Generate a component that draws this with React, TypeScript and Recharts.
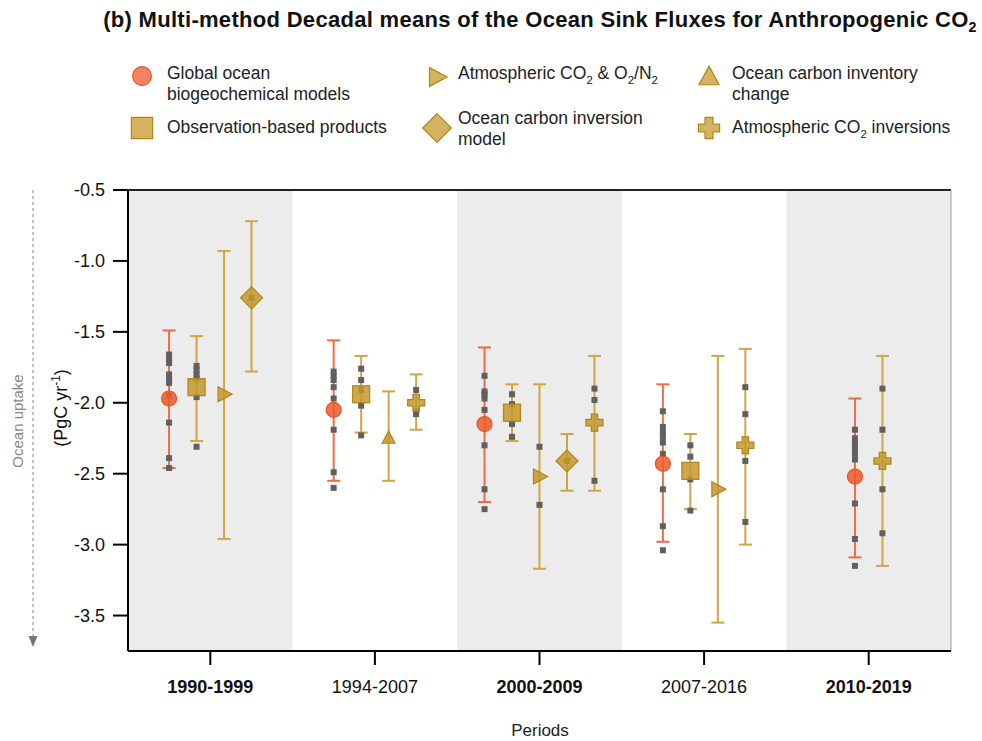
import React from 'react';
import {
  ComposedChart,
  Scatter,
  XAxis,
  YAxis,
  ErrorBar,
  ReferenceArea,
  ReferenceLine,
} from 'recharts';

// ---------------- DATA ----------------
const periods = ['1990-1999', '1994-2007', '2000-2009', '2007-2016', '2010-2019'];
const boldPeriod = [true, false, true, false, true];
const yTicks = [-3.5, -3.0, -2.5, -2.0, -1.5, -1.0, -0.5];

// Global ocean biogeochemical models
const gobmPeriods = [0, 1, 2, 3, 4];
const gobmMean = [-1.97, -2.05, -2.15, -2.43, -2.52];
const gobmLow = [-2.46, -2.55, -2.70, -2.98, -3.09];
const gobmHigh = [-1.49, -1.56, -1.61, -1.87, -1.97];
const gobmModels = [
  [-1.66, -1.69, -1.72, -1.80, -1.83, -1.86, -1.95, -2.14, -2.39, -2.46],
  [-1.78, -1.81, -1.84, -1.89, -1.97, -2.19, -2.49, -2.60],
  [-1.81, -1.92, -1.94, -1.97, -2.05, -2.30, -2.61, -2.75],
  [-2.06, -2.17, -2.21, -2.24, -2.28, -2.36, -2.61, -2.87, -3.04],
  [-2.19, -2.25, -2.29, -2.32, -2.36, -2.40, -2.71, -2.96, -3.15],
];

// Observation-based products
const obsPeriods = [0, 1, 2, 3];
const obsMean = [-1.89, -1.94, -2.07, -2.48];
const obsLow = [-2.27, -2.21, -2.27, -2.75];
const obsHigh = [-1.53, -1.67, -1.87, -2.22];
const obsModels = [
  [-1.74, -1.77, -1.80, -1.83, -1.96, -2.31],
  [-1.76, -1.84, -1.91, -2.02, -2.23],
  [-1.94, -2.01, -2.15, -2.24],
  [-2.30, -2.38, -2.54, -2.76],
];

// Atmospheric CO2 & O2/N2
const atmO2Periods = [0, 2, 3];
const atmO2Mean = [-1.94, -2.52, -2.61];
const atmO2Low = [-2.96, -3.17, -3.55];
const atmO2High = [-0.93, -1.87, -1.67];
const atmO2Models = [[], [-2.31, -2.72], []];

// Ocean carbon inversion model
const invModelPeriods = [0, 2];
const invModelMean = [-1.26, -2.41];
const invModelLow = [-1.78, -2.62];
const invModelHigh = [-0.72, -2.22];
const invModelModels = [[-1.26], [-2.41]];

// Ocean carbon inventory change
const inventoryPeriods = [1];
const inventoryMean = [-2.25];
const inventoryLow = [-2.55];
const inventoryHigh = [-1.92];
const inventoryModels = [[]];

// Atmospheric CO2 inversions
const atmInvPeriods = [1, 2, 3, 4];
const atmInvMean = [-2.0, -2.14, -2.3, -2.41];
const atmInvLow = [-2.19, -2.62, -3.0, -3.15];
const atmInvHigh = [-1.8, -1.67, -1.62, -1.67];
const atmInvModels = [
  [-1.91, -2.06, -2.08],
  [-1.9, -1.98, -2.55],
  [-1.89, -2.08, -2.41, -2.84],
  [-1.9, -2.19, -2.61, -2.92],
];

// ---------------- STYLE ----------------
const FONT = '"Liberation Sans", Arial, Helvetica, sans-serif';
const ORANGE = '#EF5A2D';
const ORANGE_BAR = '#F06A45';
const GOLD = '#C5982B';
const GOLD_DARK = '#B08419';
const GOLD_BAR = '#CFA646';
const DOT = '#606060';
const BAND = '#ECECEC';
const STEP = 0.167;

type Method = {
  key: string;
  periods: number[];
  mean: number[];
  low: number[];
  high: number[];
  models: number[][];
  color: string;
  bar: string;
  shape: string;
};

const methods: Method[] = [
  { key: 'gobm', periods: gobmPeriods, mean: gobmMean, low: gobmLow, high: gobmHigh, models: gobmModels, color: ORANGE, bar: ORANGE_BAR, shape: 'circle' },
  { key: 'obs', periods: obsPeriods, mean: obsMean, low: obsLow, high: obsHigh, models: obsModels, color: GOLD, bar: GOLD_BAR, shape: 'square' },
  { key: 'atmO2', periods: atmO2Periods, mean: atmO2Mean, low: atmO2Low, high: atmO2High, models: atmO2Models, color: GOLD, bar: GOLD_BAR, shape: 'triRight' },
  { key: 'invModel', periods: invModelPeriods, mean: invModelMean, low: invModelLow, high: invModelHigh, models: invModelModels, color: GOLD, bar: GOLD_BAR, shape: 'diamond' },
  { key: 'inventory', periods: inventoryPeriods, mean: inventoryMean, low: inventoryLow, high: inventoryHigh, models: inventoryModels, color: GOLD, bar: GOLD_BAR, shape: 'triUp' },
  { key: 'atmInv', periods: atmInvPeriods, mean: atmInvMean, low: atmInvLow, high: atmInvHigh, models: atmInvModels, color: GOLD, bar: GOLD_BAR, shape: 'cross' },
];

function slotX(key: string, p: number) {
  const present = methods.filter((m) => m.periods.includes(p));
  const idx = present.findIndex((m) => m.key === key);
  return p + 0.5 + (idx - (present.length - 1) / 2) * STEP;
}

const methodData = methods.map((m) =>
  m.periods.map((p, i) => ({
    x: slotX(m.key, p),
    y: m.mean[i],
    err: [m.mean[i] - m.low[i], m.high[i] - m.mean[i]],
  }))
);

const modelDots = methods.flatMap((m) =>
  m.periods.flatMap((p, i) => (m.models[i] || []).map((v) => ({ x: slotX(m.key, p), y: v })))
);

// ---------------- SHAPES ----------------
function Marker({ shape, cx, cy, color, size = 1, opacity = 0.85 }: any) {
  const s = size;
  const stroke = color === ORANGE ? '#E8542A' : GOLD_DARK;
  const common = { fill: color, fillOpacity: opacity, stroke, strokeWidth: 1.2 };
  switch (shape) {
    case 'circle':
      return <circle cx={cx} cy={cy} r={7.5 * s} {...common} />;
    case 'square':
      return <rect x={cx - 8.5 * s} y={cy - 8.5 * s} width={17 * s} height={17 * s} {...common} />;
    case 'triRight':
      return (
        <polygon
          points={`${cx - 6 * s},${cy - 7.5 * s} ${cx + 8 * s},${cy} ${cx - 6 * s},${cy + 7.5 * s}`}
          {...common}
        />
      );
    case 'diamond':
      return (
        <polygon
          points={`${cx},${cy - 11 * s} ${cx + 11 * s},${cy} ${cx},${cy + 11 * s} ${cx - 11 * s},${cy}`}
          {...common}
        />
      );
    case 'triUp':
      return (
        <polygon
          points={`${cx},${cy - 7 * s} ${cx + 6.5 * s},${cy + 5 * s} ${cx - 6.5 * s},${cy + 5 * s}`}
          {...common}
        />
      );
    case 'cross': {
      const a = 8.5 * s;
      const t = 3.2 * s;
      const d = `M${cx - t},${cy - a} H${cx + t} V${cy - t} H${cx + a} V${cy + t} H${cx + t} V${cy + a} H${cx - t} V${cy + t} H${cx - a} V${cy - t} H${cx - t} Z`;
      return <path d={d} {...common} />;
    }
    default:
      return null;
  }
}

const DotShape = (props: any) => {
  const { cx, cy } = props;
  if (cx == null || cy == null) return null;
  return <rect x={cx - 3} y={cy - 3} width={6} height={6} fill={DOT} />;
};

const XTick = (props: any) => {
  const { x, y, payload } = props;
  const idx = Math.floor(payload.value);
  return (
    <text
      x={x}
      y={y + 26}
      textAnchor="middle"
      fontSize={18}
      fontFamily={FONT}
      fontWeight={boldPeriod[idx] ? 'bold' : 'normal'}
      fill="#111"
    >
      {periods[idx]}
    </text>
  );
};

// ---------------- LEGEND ----------------
function LegendIcon({ shape, color }: { shape: string; color: string }) {
  return (
    <svg width={36} height={36} style={{ position: 'absolute', left: -18, top: -18, overflow: 'visible' }}>
      <Marker shape={shape} cx={18} cy={18} color={color} size={shape === 'diamond' ? 1.3 : shape === 'triUp' ? 1.55 : 1.25} opacity={0.75} />
    </svg>
  );
}

const SUB = { fontSize: '0.65em' };

const legendItems = [
  { shape: 'circle', color: ORANGE, ix: 142, iy: 76, tx: 167, ty: 63, lines: [<>Global ocean</>, <>biogeochemical models</>] },
  { shape: 'square', color: GOLD, ix: 142, iy: 128, tx: 167, ty: 117, lines: [<>Observation-based products</>] },
  { shape: 'triRight', color: GOLD, ix: 437, iy: 77, tx: 458, ty: 63, lines: [<>Atmospheric CO<sub style={SUB}>2</sub> &amp; O<sub style={SUB}>2</sub>/N<sub style={SUB}>2</sub></>] },
  { shape: 'diamond', color: GOLD, ix: 437, iy: 128, tx: 458, ty: 108, lines: [<>Ocean carbon inversion</>, <>model</>] },
  { shape: 'triUp', color: GOLD, ix: 709, iy: 77, tx: 732, ty: 63, lines: [<>Ocean carbon inventory</>, <>change</>] },
  { shape: 'cross', color: GOLD, ix: 709, iy: 128, tx: 732, ty: 117, lines: [<>Atmospheric CO<sub style={SUB}>2</sub> inversions</>] },
];

export default function App() {
  return (
    <div style={{ position: 'absolute', left: 0, top: 0, width: 982, height: 741, background: '#fff', fontFamily: FONT }}>
      <ComposedChart width={982} height={741} margin={{ top: 190, right: 31, bottom: 0, left: 0 }}>
        {periods.map((p, i) =>
          i % 2 === 0 ? (
            <ReferenceArea key={p} x1={i} x2={i + 1} y1={-3.75} y2={-0.5} fill={BAND} fillOpacity={1} stroke="none" />
          ) : null
        )}
        <XAxis
          type="number"
          dataKey="x"
          domain={[0, 5]}
          ticks={[0.5, 1.5, 2.5, 3.5, 4.5]}
          tick={<XTick />}
          tickSize={14}
          tickLine={{ stroke: '#000', strokeWidth: 2 }}
          axisLine={{ stroke: '#000', strokeWidth: 2 }}
          height={90}
          allowDataOverflow
        />
        <YAxis
          type="number"
          dataKey="y"
          domain={[-3.75, -0.5]}
          ticks={yTicks}
          tickFormatter={(v: number) => v.toFixed(1)}
          tick={{ fontSize: 18, fill: '#111', fontFamily: FONT }}
          tickSize={15}
          tickMargin={8}
          tickLine={{ stroke: '#000', strokeWidth: 2 }}
          axisLine={{ stroke: '#000', strokeWidth: 2 }}
          width={128}
          allowDataOverflow
        />
        <ReferenceLine y={-0.5} stroke="#222" strokeWidth={2} />
        <ReferenceLine x={5} stroke="#9a9a9a" strokeWidth={1} />
        <Scatter data={modelDots} shape={<DotShape />} isAnimationActive={false} />
        {methods.map((m, k) => (
          <Scatter
            key={m.key}
            data={methodData[k]}
            isAnimationActive={false}
            shape={(props: any) => <Marker shape={m.shape} cx={props.cx} cy={props.cy} color={m.color} />}
          >
            <ErrorBar dataKey="err" direction="y" width={6.5} stroke={m.bar} strokeWidth={2} isAnimationActive={false} />
          </Scatter>
        ))}
      </ComposedChart>

      {/* Title */}
      <div
        style={{
          position: 'absolute',
          left: 540,
          top: 21,
          transform: 'translate(-50%, -50%)',
          whiteSpace: 'nowrap',
          fontWeight: 'bold',
          fontSize: 22,
          letterSpacing: 0.3,
          color: '#111',
        }}
      >
        (b) Multi-method Decadal means of the Ocean Sink Fluxes for Anthropogenic CO
        <sub style={SUB}>2</sub>
      </div>

      {/* Legend */}
      {legendItems.map((it, i) => (
        <React.Fragment key={i}>
          <div style={{ position: 'absolute', left: it.ix, top: it.iy }}>
            <LegendIcon shape={it.shape} color={it.color} />
          </div>
          <div style={{ position: 'absolute', left: it.tx, top: it.ty, fontSize: 17.5, lineHeight: '21px', color: '#222', whiteSpace: 'nowrap' }}>
            {it.lines.map((l, j) => (
              <div key={j}>{l}</div>
            ))}
          </div>
        </React.Fragment>
      ))}

      {/* Y axis label + arrow */}
      <svg width={130} height={741} style={{ position: 'absolute', left: 0, top: 0 }}>
        <line x1={33} y1={190} x2={33} y2={636} stroke="#9a9a9a" strokeWidth={1.2} strokeDasharray="3 3" />
        <polygon points="28.5,636 37.5,636 33,647" fill="#777" />
        <text
          transform="translate(23, 421) rotate(-90)"
          textAnchor="middle"
          fontSize={15}
          fill="#888"
          fontFamily={FONT}
        >
          Ocean uptake
        </text>
        <text transform="translate(67, 408) rotate(-90)" textAnchor="middle" fontSize={18} fill="#111" fontFamily={FONT}>
          (PgC yr<tspan dy={-7} fontSize={12}>-1</tspan>
          <tspan dy={7}>)</tspan>
        </text>
      </svg>

      {/* X axis title */}
      <div
        style={{
          position: 'absolute',
          left: 540,
          top: 731,
          transform: 'translate(-50%, -50%)',
          fontSize: 17,
          color: '#222',
          whiteSpace: 'nowrap',
        }}
      >
        Periods
      </div>
    </div>
  );
}
